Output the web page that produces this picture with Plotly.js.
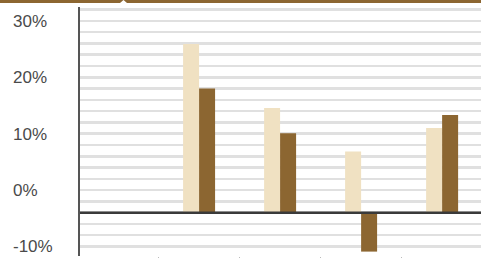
<!DOCTYPE html>
<html>
<head>
<meta charset="utf-8">
<script src="https://cdn.plot.ly/plotly-3.0.1.min.js"></script>
<style>
html,body{margin:0;padding:0;background:#fff;overflow:hidden;}
#chart{width:481px;height:258px;}
</style>
</head>
<body>
<div id="chart"></div>
<script>
// Data
const categories = ['Group 0', 'Group 1', 'Group 2', 'Group 3', 'Group 4'];
const seriesLight = [null, 29.5, 18.3, 10.7, 14.8];
const seriesDark  = [null, 21.7, 13.9, -6.8, 17.1];
const tickValues = [-10, 0, 10, 20, 30];
const tickLabels = ['-10%', '0%', '10%', '20%', '30%'];

const lightColor = '#F0E1C2';
const darkColor = '#8C6631';
const gridColor = '#e0e0e0';

const traces = [
  {type: 'bar', name: 'Series A', x: categories, y: seriesLight,
   marker: {color: lightColor, line: {width: 0}}, hoverinfo: 'skip'},
  {type: 'bar', name: 'Series B', x: categories, y: seriesDark,
   marker: {color: darkColor, line: {width: 0}}, hoverinfo: 'skip'},
  {type: 'scatter', mode: 'lines', x: [], y: [], yaxis: 'y2', showlegend: false, hoverinfo: 'skip'}
];

const W = 481;
const leftPx = 80;

const layout = {
  width: W, height: 258,
  margin: {l: 0, r: 0, t: 7, b: 2, pad: 0},
  paper_bgcolor: '#fff', plot_bgcolor: 'rgba(0,0,0,0)',
  showlegend: false,
  barmode: 'group', bargap: 0.605, bargroupgap: 0,
  font: {family: '"Liberation Sans", Arial, sans-serif', color: '#4a4a4a'},
  xaxis: {
    type: 'category', categoryorder: 'array', categoryarray: categories,
    domain: [leftPx / W, 1], range: [-0.47, 4.48],
    showticklabels: false, ticks: 'outside', tickson: 'boundaries',
    ticklen: 3, tickcolor: '#bbb', tickwidth: 1,
    showgrid: false, zeroline: false, showline: false
  },
  yaxis: {
    range: [-7.57, 35.96],
    showgrid: false, zeroline: false, showticklabels: false, ticks: '',
    showline: true, linecolor: '#555', linewidth: 2
  },
  yaxis2: {
    overlaying: 'y', anchor: 'free', position: 0, side: 'right',
    range: [-11.68, 32.46],
    tickmode: 'array', tickvals: tickValues, ticktext: tickLabels,
    ticks: '', ticklabelstandoff: 12, ticklabeloverflow: 'allow',
    tickfont: {size: 17, color: '#4a4a4a', family: '"Liberation Sans", Arial, sans-serif'},
    showgrid: true, gridcolor: gridColor, gridwidth: 2.5,
    minor: {dtick: 2, tick0: 0, showgrid: true, gridcolor: gridColor, gridwidth: 2.5},
    zeroline: false, showline: false
  },
  shapes: [
    {type: 'line', xref: 'paper', x0: leftPx / W, x1: 1, yref: 'y', y0: 0, y1: 0,
     line: {color: '#3a3a3a', width: 2.5}, layer: 'above'},
    {type: 'rect', xref: 'paper', x0: 0, x1: 1, yref: 'paper', y0: (256 - 3) / 249, y1: 256 / 249,
     fillcolor: darkColor, line: {width: 0}, layer: 'above'},
    {type: 'path', xref: 'paper', yref: 'paper',
     path: 'M ' + (120 / W) + ',' + ((256 - 3) / 249) + ' L ' + (127 / W) + ',' + ((256 - 3) / 249) +
           ' L ' + (123.5 / W) + ',' + (256 / 249) + ' Z',
     fillcolor: '#fff', line: {width: 0}, layer: 'above'}
  ]
};

Plotly.newPlot('chart', traces, layout, {displayModeBar: false, staticPlot: true});
</script>
</body>
</html>
